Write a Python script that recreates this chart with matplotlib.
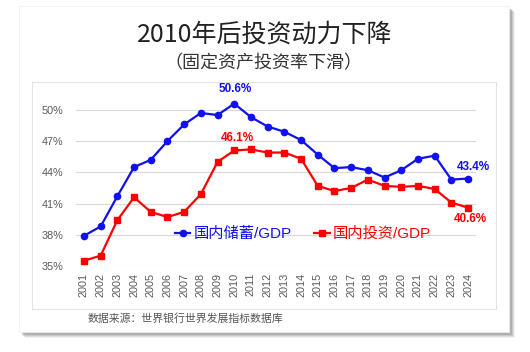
import matplotlib
matplotlib.use("Agg")
import matplotlib.pyplot as plt
from matplotlib.patches import Rectangle
from matplotlib.lines import Line2D

plt.rcParams['font.family'] = ['Liberation Sans', 'Noto Sans CJK SC', 'DejaVu Sans']

years = list(range(2001, 2025))
savings = [37.9, 38.8, 41.7, 44.5, 45.2, 47.0, 48.6, 49.7, 49.5, 50.6, 49.3, 48.4,
           47.9, 47.1, 45.7, 44.4, 44.5, 44.2, 43.5, 44.2, 45.3, 45.6, 43.3, 43.4]
investment = [35.5, 36.0, 39.4, 41.6, 40.2, 39.7, 40.2, 41.9, 45.0, 46.1, 46.2, 45.9,
              45.9, 45.3, 42.7, 42.2, 42.5, 43.3, 42.7, 42.6, 42.7, 42.4, 41.1, 40.6]
yticks = [35, 38, 41, 44, 47, 50]
title = "2010年后投资动力下降"
subtitle = "（固定资产投资率下滑）"
source = "数据来源：世界银行世界发展指标数据库"
label_s = "国内储蓄/GDP"
label_i = "国内投资/GDP"

W, H = 530, 352
fig = plt.figure(figsize=(W / 100, H / 100), dpi=100)
fig.patch.set_facecolor('white')

def fr(x0, y0, x1, y1):
    return (x0 / W, 1 - y1 / H), (x1 - x0) / W, (y1 - y0) / H

# card shadow
for off, a in [(6, 0.10), (5, 0.15), (4, 0.22), (3, 0.30)]:
    xy, w, h = fr(19 + off, 6 + off, 509 + off, 332 + off)
    fig.patches.append(Rectangle(xy, w, h, transform=fig.transFigure,
                                 facecolor='#7a7a7a', edgecolor='none', alpha=a, zorder=0))
xy, w, h = fr(19, 6, 509, 332)
fig.patches.append(Rectangle(xy, w, h, transform=fig.transFigure,
                             facecolor='white', edgecolor='#eeeeee', lw=0.5, zorder=1))
xy, w, h = fr(32, 82, 496, 309)
fig.patches.append(Rectangle(xy, w, h, transform=fig.transFigure,
                             facecolor='white', edgecolor='#e3e3e3', lw=0.8, zorder=2))

ax = fig.add_axes([75.6 / W, 1 - 266 / H, (476.4 - 75.6) / W, (266 - 88) / H])
ax.set_facecolor('none')
ax.set_zorder(3)

blue = '#1010F0'
red = '#FF0000'
ax.plot(years, savings, color=blue, lw=1.6, marker='o', ms=4.5, zorder=4)
ax.plot(years, investment, color=red, lw=1.6, marker='s', ms=5, zorder=4)

ax.set_xlim(2000.5, 2024.5)
ax.set_ylim(35, 52.1)
ax.set_yticks(yticks)
ax.set_yticklabels([f"{v}%" for v in yticks])
ax.set_xticks(years)
ax.set_xticklabels([str(y) for y in years], rotation=90)
ax.tick_params(axis='y', length=0, pad=9, labelsize=7.8, labelcolor='#595959')
ax.tick_params(axis='x', length=0, pad=5, labelsize=7.8, labelcolor='#595959')
ax.grid(axis='y', color='#d9d9d9', lw=0.8)
ax.set_axisbelow(True)
for s in ax.spines.values():
    s.set_visible(False)

i10 = years.index(2010)
ax.annotate(f"{savings[i10]}%", (2010, savings[i10]), xytext=(1, 6), textcoords='offset points',
            ha='center', va='bottom', color=blue, fontsize=8.5, fontweight='bold')
ax.annotate(f"{investment[i10]}%", (2010, investment[i10]), xytext=(2, 5), textcoords='offset points',
            ha='center', va='bottom', color=red, fontsize=8.5, fontweight='bold')
ax.annotate(f"{savings[-1]}%", (2024, savings[-1]), xytext=(4, 4), textcoords='offset points',
            ha='center', va='bottom', color=blue, fontsize=8.5, fontweight='bold')
ax.annotate(f"{investment[-1]}%", (2024, investment[-1]), xytext=(2, -4), textcoords='offset points',
            ha='center', va='top', color=red, fontsize=8.5, fontweight='bold')

handles = [Line2D([], [], color=blue, lw=1.6, marker='o', ms=4.5),
           Line2D([], [], color=red, lw=1.6, marker='s', ms=5)]
leg = ax.legend(handles, [label_s, label_i], loc='center left',
                bbox_to_anchor=(175 / W, 1 - 234 / H), bbox_transform=fig.transFigure,
                ncol=2, frameon=False, handlelength=1.0, handletextpad=0.2,
                columnspacing=1.5, prop={'size': 11},
                labelcolor=[blue, red], borderpad=0, borderaxespad=0)

fig.text(265 / W, 1 - 35 / H, title, ha='center', va='center', fontsize=18,
         color='#222222', family=['Noto Sans CJK SC', 'DejaVu Sans'])
fig.text(263 / W, 1 - 63 / H, subtitle, ha='center', va='center', fontsize=13,
         color='#333333', family=['Noto Sans CJK SC', 'DejaVu Sans'])
fig.text(88 / W, 1 - 319 / H, source, ha='left', va='center', fontsize=7.8,
         color='#555555', family=['Noto Sans CJK SC', 'DejaVu Sans'])

fig.savefig('out.png', dpi=100)
